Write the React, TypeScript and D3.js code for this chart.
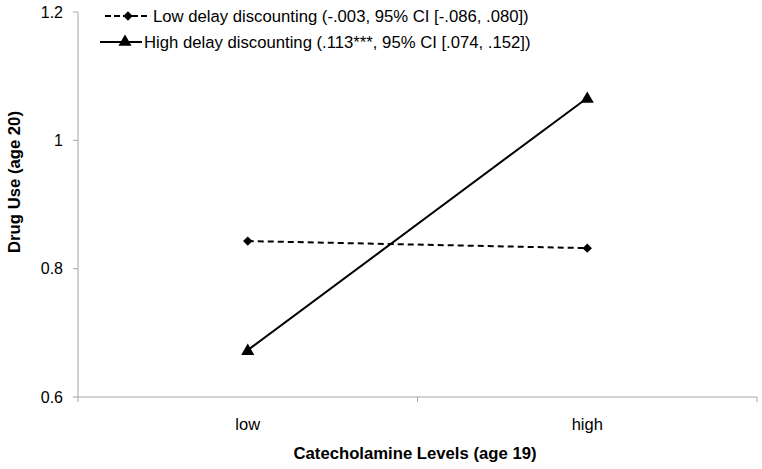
import React, { useEffect, useRef } from 'react';
import * as d3 from 'd3';

const categories = ['low', 'high'];
const lowDelay = [0.843, 0.832];
const highDelay = [0.673, 1.066];
const yTicks = [0.6, 0.8, 1, 1.2];
const legendLabels = [
  'Low delay discounting (-.003, 95% CI [-.086, .080])',
  'High delay discounting (.113***, 95% CI [.074, .152])',
];

const App: React.FC = () => {
  const svgRef = useRef<SVGSVGElement>(null);

  useEffect(() => {
    if (!svgRef.current) return;
    document.body.style.margin = '0';

    const svg = d3.select(svgRef.current);
    svg.selectAll('*').remove();

    const width = 762;
    const height = 469;
    const left = 78;
    const right = 757;
    const top = 12;
    const bottom = 397;
    const font = "'Liberation Sans', Arial, sans-serif";
    const axisColor = '#a6a6a6';

    svg.attr('width', width).attr('height', height);

    const x = d3.scaleBand<string>().domain(categories).range([left, right]);
    const y = d3.scaleLinear().domain([0.6, 1.2]).range([bottom, top]);

    // Y axis
    const yAxis = svg.append('g');
    yAxis.append('line')
      .attr('x1', left).attr('x2', left)
      .attr('y1', y(1.2)).attr('y2', y(0.6))
      .attr('stroke', axisColor);
    yTicks.forEach((t) => {
      yAxis.append('line')
        .attr('x1', left - 5).attr('x2', left)
        .attr('y1', y(t)).attr('y2', y(t))
        .attr('stroke', axisColor);
      yAxis.append('text')
        .attr('x', left - 15)
        .attr('y', y(t))
        .attr('dy', '0.35em')
        .attr('text-anchor', 'end')
        .style('font-family', font)
        .style('font-size', '16px')
        .attr('fill', '#000')
        .text(d3.format('')(t));
    });

    // X axis
    const xAxis = svg.append('g');
    xAxis.append('line')
      .attr('x1', left).attr('x2', right)
      .attr('y1', bottom).attr('y2', bottom)
      .attr('stroke', axisColor);
    const bounds = [left, ...categories.map((c) => (x(c) as number) + x.bandwidth())];
    bounds.forEach((bx) => {
      xAxis.append('line')
        .attr('x1', bx).attr('x2', bx)
        .attr('y1', bottom).attr('y2', bottom + 5)
        .attr('stroke', axisColor);
    });
    categories.forEach((c) => {
      xAxis.append('text')
        .attr('x', (x(c) as number) + x.bandwidth() / 2)
        .attr('y', 430)
        .attr('text-anchor', 'middle')
        .style('font-family', font)
        .style('font-size', '16.5px')
        .text(c);
    });

    // Axis titles
    svg.append('text')
      .attr('x', 415)
      .attr('y', 459)
      .attr('text-anchor', 'middle')
      .style('font-family', font)
      .style('font-size', '16.7px')
      .style('font-weight', 'bold')
      .text('Catecholamine Levels (age 19)');

    svg.append('text')
      .attr('transform', 'translate(20, 182) rotate(-90)')
      .attr('text-anchor', 'middle')
      .style('font-family', font)
      .style('font-size', '16.7px')
      .style('font-weight', 'bold')
      .text('Drug Use (age 20)');

    const cx = (c: string) => (x(c) as number) + x.bandwidth() / 2;
    const line = d3.line<number>()
      .x((_, i) => cx(categories[i]))
      .y((d) => y(d));

    const diamond = d3.symbol().type(d3.symbolDiamond2).size(56);
    const triangle = d3.symbol().type(d3.symbolTriangle).size(75);

    // Low delay series (dashed, diamonds)
    svg.append('path')
      .datum(lowDelay)
      .attr('d', line)
      .attr('fill', 'none')
      .attr('stroke', '#000')
      .attr('stroke-width', 2)
      .attr('stroke-dasharray', '6,4');
    svg.selectAll('.dia')
      .data(lowDelay)
      .enter()
      .append('path')
      .attr('d', diamond)
      .attr('transform', (d, i) => `translate(${cx(categories[i])}, ${y(d)})`)
      .attr('fill', '#000');

    // High delay series (solid, triangles)
    svg.append('path')
      .datum(highDelay)
      .attr('d', line)
      .attr('fill', 'none')
      .attr('stroke', '#000')
      .attr('stroke-width', 2);
    svg.selectAll('.tri')
      .data(highDelay)
      .enter()
      .append('path')
      .attr('d', triangle)
      .attr('transform', (d, i) => `translate(${cx(categories[i])}, ${y(d) + 1})`)
      .attr('fill', '#000');

    // Legend
    const legend = svg.append('g');
    const legendY = [16, 42];
    legend.append('line')
      .attr('x1', 105).attr('x2', 150)
      .attr('y1', legendY[0]).attr('y2', legendY[0])
      .attr('stroke', '#000').attr('stroke-width', 2)
      .attr('stroke-dasharray', '6,3');
    legend.append('path')
      .attr('d', diamond)
      .attr('transform', `translate(128, ${legendY[0]})`);
    legend.append('line')
      .attr('x1', 100).attr('x2', 142)
      .attr('y1', legendY[1]).attr('y2', legendY[1])
      .attr('stroke', '#000').attr('stroke-width', 2);
    legend.append('path')
      .attr('d', triangle)
      .attr('transform', `translate(125, ${legendY[1]})`);
    legendLabels.forEach((l, i) => {
      legend.append('text')
        .attr('x', i === 0 ? 153 : 144)
        .attr('y', legendY[i])
        .attr('dy', '0.35em')
        .style('font-family', font)
        .style('font-size', '16.7px')
        .text(l);
    });
  }, []);

  return <svg ref={svgRef} style={{ display: 'block' }}></svg>;
};

export default App;
